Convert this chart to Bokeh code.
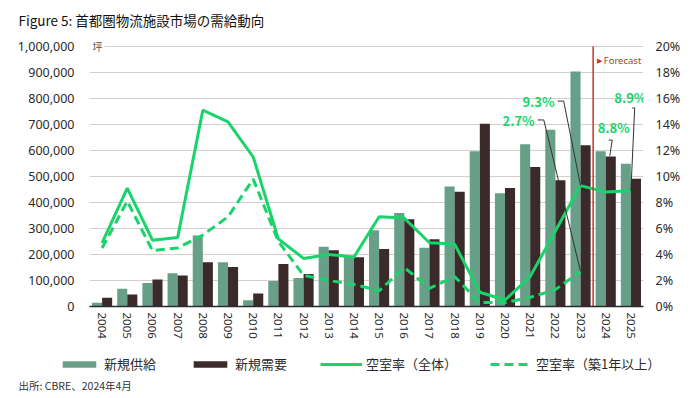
from bokeh.plotting import figure
from bokeh.layouts import column
from bokeh.models import (ColumnDataSource, FactorRange, Range1d, LinearAxis, Label,
                          Legend, LegendItem, NumeralTickFormatter, PrintfTickFormatter)
from bokeh.transform import dodge
from bokeh.embed import file_html
from bokeh.resources import INLINE

nan = float("nan")

years = [str(y) for y in range(2004, 2026)]
supply = [14000, 68000, 90000, 128000, 273000, 170000, 24000, 98000, 110000, 230000, 190000,
          293000, 360000, 226000, 462000, 597000, 436000, 624000, 680000, 904000, 597000, 549000]
demand = [34000, 46000, 104000, 119000, 170000, 152000, 50000, 163000, 125000, 216000, 189000,
          221000, 336000, 259000, 441000, 703000, 456000, 537000, 486000, 620000, 577000, 491000]
vac_all = [4.9, 9.1, 5.1, 5.3, 15.1, 14.2, 11.5, 5.2, 3.7, 4.0, 3.8,
           6.9, 6.8, 4.9, 4.8, 1.1, 0.5, 2.3, 5.8, 9.3, 8.8, 8.9]
vac_new = [4.5, 8.1, 4.3, 4.5, 5.5, 6.9, 9.8, 5.0, 2.4, 2.0, 1.7,
           1.2, 3.0, 1.4, 2.3, 0.3, 0.3, 0.7, 1.3, 2.7, nan, nan]
left_ticks = list(range(0, 1000001, 100000))
right_ticks = list(range(0, 21, 2))
series_names = ["新規供給", "新規需要", "空室率（全体）", "空室率（築1年以上）"]

GREEN_BAR = "#689f89"
DARK_BAR = "#3a2a2a"
LINE_GREEN = "#1ad36b"
RED = "#cc3322"
TEXT = "#2a2a2a"
FONT = "Noto Sans CJK JP"
NUM_FONT = "Noto Sans"
W = 700

# frame geometry: 260px for the 0..1,000,000 span, plus 6px headroom above the top gridline
FRAME_PX = 266
Y_MAX = left_ticks[-1] * FRAME_PX / 260
PCT_MAX = right_ticks[-1] * FRAME_PX / 260


def no_align(fig):
    try:
        fig.frame_align = False
    except Exception:
        pass


def strip(h):
    f = figure(width=W, height=h, x_range=Range1d(0, 1), y_range=Range1d(0, 1),
               output_backend="svg", toolbar_location=None,
               min_border_left=0, min_border_right=0, min_border_top=0, min_border_bottom=0)
    f.axis.visible = False
    f.grid.visible = False
    f.outline_line_color = None
    no_align(f)
    return f


# ---------- title strip ----------
t = strip(36)
t.add_layout(Label(x=18, y=17, x_units="screen", y_units="screen",
                   text="Figure 5: 首都圏物流施設市場の需給動向", text_font=FONT,
                   text_font_size="13.5px", text_color="#111111", text_baseline="middle"))

# ---------- main chart ----------
src = ColumnDataSource(dict(year=years, supply=supply, demand=demand,
                            vac_all=vac_all, vac_new=vac_new))

p = figure(width=W, height=314, x_range=FactorRange(*years), y_range=Range1d(0, Y_MAX),
           output_backend="svg", toolbar_location=None,
           min_border_left=89, min_border_right=57, min_border_top=4, min_border_bottom=44)
no_align(p)
p.outline_line_color = None
p.extra_y_ranges = {"pct": Range1d(0, PCT_MAX)}

r_sup = p.vbar(x=dodge("year", -0.2, range=p.x_range), top="supply", width=0.4, source=src,
               fill_color=GREEN_BAR, line_color=None)
r_dem = p.vbar(x=dodge("year", 0.2, range=p.x_range), top="demand", width=0.4, source=src,
               fill_color=DARK_BAR, line_color=None)
r_all = p.line(x="year", y="vac_all", source=src, y_range_name="pct",
               line_color=LINE_GREEN, line_width=3)
r_new = p.line(x="year", y="vac_new", source=src, y_range_name="pct",
               line_color=LINE_GREEN, line_width=3, line_dash="9 5")

p.yaxis.ticker = left_ticks
p.yaxis.formatter = NumeralTickFormatter(format="0,0")
p.yaxis.axis_line_color = None
p.yaxis.major_tick_line_color = None
p.yaxis.minor_tick_line_color = None
p.yaxis.major_tick_out = 0
p.yaxis.major_label_standoff = 15
p.yaxis.major_label_text_font = NUM_FONT
p.yaxis.major_label_text_font_size = "12.5px"
p.yaxis.major_label_text_color = TEXT

ax_r = LinearAxis(y_range_name="pct", ticker=right_ticks,
                  formatter=PrintfTickFormatter(format="%d%%"))
ax_r.axis_line_color = None
ax_r.major_tick_line_color = None
ax_r.minor_tick_line_color = None
ax_r.major_tick_out = 0
ax_r.major_label_standoff = 12
ax_r.major_label_text_font = NUM_FONT
ax_r.major_label_text_font_size = "12.5px"
ax_r.major_label_text_color = TEXT
p.add_layout(ax_r, "right")

p.xaxis.major_label_orientation = "vertical"
p.xaxis.major_label_text_font = NUM_FONT
p.xaxis.major_label_text_font_size = "11.5px"
p.xaxis.major_label_text_color = TEXT
p.xaxis.major_label_standoff = 6
p.xaxis.major_tick_line_color = None
p.xaxis.major_tick_out = 0
p.xaxis.axis_line_color = "#2b2b2b"
p.xaxis.axis_line_width = 1.5
p.x_range.range_padding = 0

p.xgrid.grid_line_color = None
p.ygrid.grid_line_color = "#d6cdcd"
p.ygrid.grid_line_width = 1

# forecast divider (between 2023 and 2024), from the baseline to the top gridline
i23, i24, i25 = years.index("2023"), years.index("2024"), years.index("2025")
p.segment(x0=[i24], y0=[left_ticks[0]], x1=[i24], y1=[left_ticks[-1]],
          line_color=RED, line_width=1.5)
p.add_layout(Label(x=20.15, y=18.9, y_range_name="pct", text="▶",
                   text_font="DejaVu Sans", text_font_size="7px", text_color=RED,
                   text_baseline="middle"))
p.add_layout(Label(x=20.42, y=18.9, y_range_name="pct", text="Forecast",
                   text_font="Noto Sans", text_font_size="9.5px", text_color=RED,
                   text_baseline="middle"))

# unit label
p.add_layout(Label(x=1, y=left_ticks[-1], x_units="screen", text="坪",
                   text_font=FONT, text_font_size="10px", text_color="#555555",
                   text_baseline="middle", background_fill_color="white", padding=2))

# value callouts
callouts = [
    (f"{vac_new[i23]}%", 16.4, 14.3, [17.8, 18.04, i23 + 0.5], [14.35, 14.35, vac_new[i23]]),
    (f"{vac_all[i23]}%", 17.19, 15.75, [18.59, 18.83, i23 + 0.5], [15.8, 15.8, vac_all[i23]]),
    (f"{vac_all[i24]}%", 20.18, 13.8, [20.62, 20.76, 20.66], [12.8, 12.8, 11.6]),
    (f"{vac_all[i25]}%", 20.84, 16.1, [21.55, 21.65, i25 + 0.5], [15.27, 15.27, vac_all[i25]]),
]
for txt, tx, ty, lx, ly in callouts:
    p.line(x=lx, y=ly, y_range_name="pct", line_color="#333333", line_width=1)
    p.add_layout(Label(x=tx, y=ty, y_range_name="pct", text=txt, text_font=FONT,
                       text_font_size="13px", text_font_style="bold", text_color=LINE_GREEN,
                       text_baseline="middle"))

# ---------- legend + source strip ----------
q = strip(48)
l_sup = q.vbar(x="supply", top="supply", width=1, source=src, fill_color=GREEN_BAR,
               line_color=None, visible=False)
l_dem = q.vbar(x="demand", top="demand", width=1, source=src, fill_color=DARK_BAR,
               line_color=None, visible=False)
l_all = q.line(x="supply", y="vac_all", source=src, line_color=LINE_GREEN, line_width=3,
               visible=False)
l_new = q.line(x="supply", y="vac_new", source=src, line_color=LINE_GREEN, line_width=3,
               line_dash="9 5", visible=False)

legend = Legend(items=[LegendItem(label=series_names[0], renderers=[l_sup]),
                       LegendItem(label=series_names[1], renderers=[l_dem]),
                       LegendItem(label=series_names[2], renderers=[l_all]),
                       LegendItem(label=series_names[3], renderers=[l_new])],
                orientation="horizontal", location=(58, 25))
legend.border_line_color = None
legend.background_fill_alpha = 0
legend.padding = 0
legend.margin = 0
legend.spacing = 33
legend.glyph_width = 42
legend.glyph_height = 8
legend.label_height = 14
legend.label_standoff = 4
legend.label_text_font = FONT
legend.label_text_font_size = "13px"
legend.label_text_color = TEXT
q.add_layout(legend, "center")

q.add_layout(Label(x=18, y=13, x_units="screen", y_units="screen",
                   text="出所: CBRE、2024年4月", text_font=FONT,
                   text_font_size="10.5px", text_color="#333333", text_baseline="middle"))

layout = column(t, p, q, spacing=0)
open("out.html", "w").write(file_html(layout, INLINE))
